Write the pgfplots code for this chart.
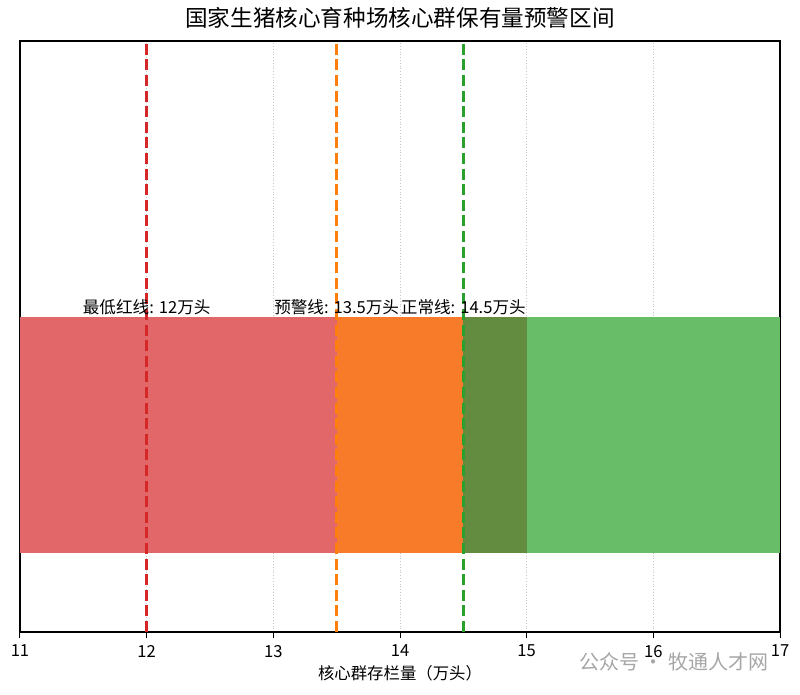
\documentclass[border=0pt]{standalone}
\usepackage{pgfplots}
\pgfplotsset{compat=1.18}
\usepackage{fontspec}
\setmainfont{Noto Sans CJK SC}
\definecolor{cRedBar}{RGB}{226,103,104}
\definecolor{cOrgBar}{RGB}{247,123,40}
\definecolor{cMixBar}{RGB}{100,140,65}
\definecolor{cGrnBar}{RGB}{104,189,104}
\definecolor{cRed}{RGB}{214,39,40}
\definecolor{cOrg}{RGB}{255,127,14}
\definecolor{cGrn}{RGB}{44,160,44}
\begin{document}
\begin{tikzpicture}
\begin{axis}[
  scale only axis,
  width=380pt, height=295.5pt,
  xmin=11, xmax=17, ymin=-0.5, ymax=1,
  xtick={11,12,13,14,15,16,17},
  ytick=\empty,
  xmajorgrids,
  major grid style={densely dotted, color=black!22, line width=0.4pt},
  tick align=outside, tick pos=bottom,
  major tick length=3pt,
  axis line style={black, line width=0.6pt},
  tick style={black, line width=0.5pt},
  /pgf/number format/assume math mode=true,
  ticklabel style={font=\fontsize{8.3}{9}\selectfont},
  xlabel={核心群存栏量（万头）},
  xlabel style={font=\fontsize{8.2}{9}\selectfont, yshift=3pt},
  title={国家生猪核心育种场核心群保有量预警区间},
  title style={font=\fontsize{11.3}{13}\selectfont, yshift=-3pt},
]
\addplot[fill=cRedBar, draw=none] coordinates {(11,-0.3) (13.5,-0.3) (13.5,0.3) (11,0.3)} --cycle;
\addplot[fill=cOrgBar, draw=none] coordinates {(13.5,-0.3) (14.5,-0.3) (14.5,0.3) (13.5,0.3)} --cycle;
\addplot[fill=cMixBar, draw=none] coordinates {(14.5,-0.3) (15,-0.3) (15,0.3) (14.5,0.3)} --cycle;
\addplot[fill=cGrnBar, draw=none] coordinates {(15,-0.3) (17,-0.3) (17,0.3) (15,0.3)} --cycle;
\addplot[cRed, line width=1.3pt, dash pattern=on 5.5pt off 2.3pt] coordinates {(12,-0.5) (12,1)};
\addplot[cOrg, line width=1.3pt, dash pattern=on 5.5pt off 2.3pt] coordinates {(13.5,-0.5) (13.5,1)};
\addplot[cGrn, line width=1.3pt, dash pattern=on 5.5pt off 2.3pt] coordinates {(14.5,-0.5) (14.5,1)};
\node[anchor=south, inner sep=0.6pt, font=\fontsize{8.3}{9}\selectfont] at (axis cs:12,0.3) {最低红线: 12万头};
\node[anchor=south, inner sep=0.6pt, font=\fontsize{8.3}{9}\selectfont] at (axis cs:13.5,0.3) {预警线: 13.5万头};
\node[anchor=south, inner sep=0.6pt, font=\fontsize{8.3}{9}\selectfont] at (axis cs:14.5,0.3) {正常线: 14.5万头};
\end{axis}
\node[anchor=west, text=black!35, font=\fontsize{10}{11}\selectfont] at ([xshift=-104pt,yshift=-15pt]current axis.south east) {公众号 · 牧通人才网};
\pgfresetboundingbox
\path ([xshift=-10pt,yshift=-31pt]current axis.south west) rectangle ([xshift=10pt,yshift=20.5pt]current axis.north east);
\end{tikzpicture}
\end{document}
